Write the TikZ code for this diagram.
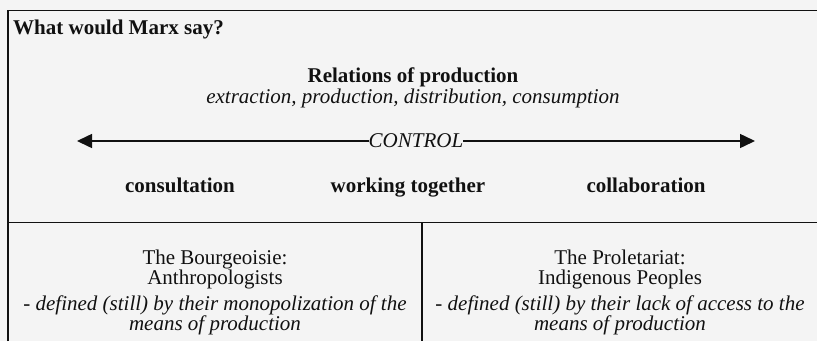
\documentclass[tikz,border=0pt]{standalone}
\usepackage{fontspec}
\setmainfont{Liberation Serif}
\usetikzlibrary{arrows.meta}
\definecolor{panelbg}{HTML}{F4F4F4}
\definecolor{ink}{HTML}{111111}
\begin{document}
\begin{tikzpicture}[x=1pt,y=-1pt,
  txt/.style={inner sep=0pt, text=ink, font=\fontsize{21}{24}\selectfont, anchor=base},
  boldtxt/.style={txt, font=\fontsize{21}{24}\selectfont\bfseries},
  itxt/.style={txt, font=\fontsize{21}{24}\selectfont\itshape},
  rule/.style={draw=ink, line width=1.1pt},
  frame/.style={draw=ink, line width=1.8pt},
  flow/.style={draw=ink, line width=1.5pt, -{Triangle[length=15pt,width=14pt]}}]
  % page and table frame
  \fill[panelbg] (0,0) rectangle (817,341);
  \useasboundingbox (0,0) rectangle (817,341);
  \draw[frame] (8,341) -- (8,10.5) -- (817,10.5);
  \draw[rule] (8,222.5) -- (817,222.5);
  \draw[rule] (422,222.5) -- (422,341);

  % upper cell
  \node[boldtxt, anchor=base west] (title) at (13,34) {What would Marx say?};
  \node[boldtxt] (rel) at (413,82) {Relations of production};
  \node[itxt] (stages) at (413,103) {extraction, production, distribution, consumption};

  \coordinate (lefttip) at (77,141);
  \coordinate (righttip) at (755,141);
  \node[itxt, anchor=center, inner sep=0pt] (control) at (416,141) {CONTROL};
  \draw[flow] (control.west) -- (lefttip);
  \draw[flow] (control.east) -- (righttip);

  \node[boldtxt] (consult) at (180,192) {consultation};
  \node[boldtxt] (together) at (408,192) {working together};
  \node[boldtxt] (collab) at (646,192) {collaboration};

  % lower left cell
  \node[txt] (bourg) at (215,264) {The Bourgeoisie:};
  \node[txt] (anthro) at (215,284) {Anthropologists};
  \node[itxt] (bdef) at (215,310) {- defined (still) by their monopolization of the};
  \node[itxt] (bmeans) at (215,330) {means of production};

  % lower right cell
  \node[txt] (prol) at (620,264) {The Proletariat:};
  \node[txt] (indig) at (620,284) {Indigenous Peoples};
  \node[itxt] (pdef) at (620,310) {- defined (still) by their lack of access to the};
  \node[itxt] (pmeans) at (620,330) {means of production};
\end{tikzpicture}
\end{document}
